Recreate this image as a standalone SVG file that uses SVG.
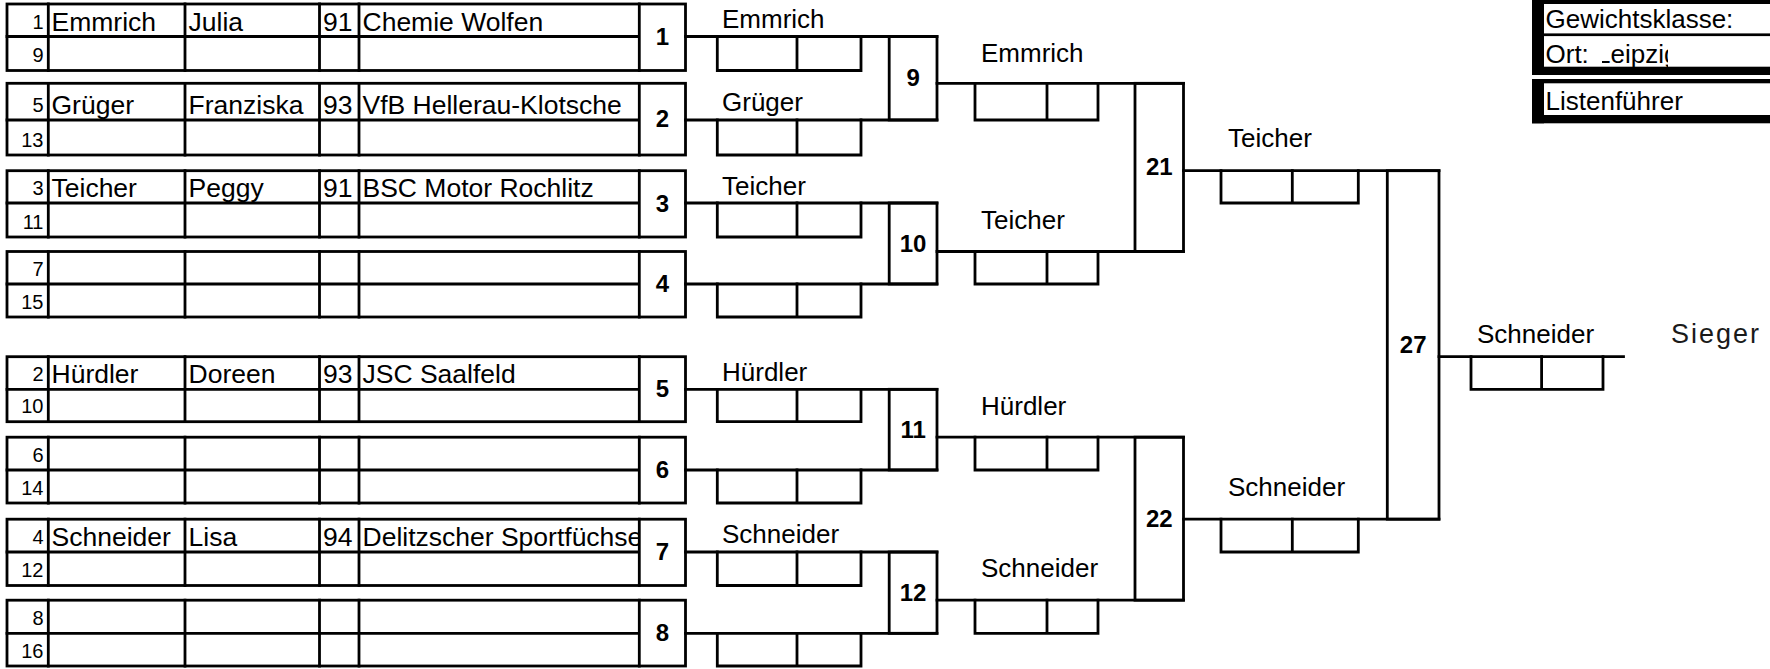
<svg xmlns="http://www.w3.org/2000/svg" width="1770" height="669" viewBox="0 0 1770 669">
<style>
.ln{stroke:#000;stroke-width:2.8;fill:none;stroke-linecap:square}
.t{font-family:"Liberation Sans",Arial,sans-serif;font-size:26px;fill:#000}
.c{font-size:26.5px}
.n{font-size:20px;text-anchor:end}
.b{font-weight:bold;font-size:24px;text-anchor:middle}
.s{font-size:27px;letter-spacing:2px;fill:#1a1a1a}
.blk{fill:#000}
</style>
<defs>
<clipPath id="clubClip"><rect x="360" y="519" width="279" height="34"/></clipPath>
<clipPath id="ortClip"><rect x="1540" y="36" width="55" height="31"/><rect x="1602" y="36" width="66" height="31"/></clipPath>
</defs>
<rect width="1770" height="669" fill="#fff"/>

<g id="pair-1">
<rect class="ln" x="7" y="4" width="678.5" height="66.5"/>
<path class="ln" d="M7 36.5H639.3M48.3 4V70.5M185 4V70.5M319.5 4V70.5M359 4V70.5M639.3 4V70.5"/>
<text class="t n" x="43.5" y="28.5">1</text><text class="t n" x="43.5" y="62">9</text>
<text class="t c" x="51.5" y="30.5">Emmrich</text><text class="t c" x="188.5" y="30.5">Julia</text><text class="t c" x="323" y="30.5">91</text><text class="t c" x="362.5" y="30.5">Chemie Wolfen</text>
<text class="t b" x="662.4" y="45.3">1</text>
</g>
<g id="pair-2">
<rect class="ln" x="7" y="83.3" width="678.5" height="71.7"/>
<path class="ln" d="M7 120H639.3M48.3 83.3V155M185 83.3V155M319.5 83.3V155M359 83.3V155M639.3 83.3V155"/>
<text class="t n" x="43.5" y="112">5</text><text class="t n" x="43.5" y="146.5">13</text>
<text class="t c" x="51.5" y="114">Grüger</text><text class="t c" x="188.5" y="114">Franziska</text><text class="t c" x="323" y="114">93</text><text class="t c" x="362.5" y="114">VfB Hellerau-Klotsche</text>
<text class="t b" x="662.4" y="127.2">2</text>
</g>
<g id="pair-3">
<rect class="ln" x="7" y="170.7" width="678.5" height="66.3"/>
<path class="ln" d="M7 203H639.3M48.3 170.7V237M185 170.7V237M319.5 170.7V237M359 170.7V237M639.3 170.7V237"/>
<text class="t n" x="43.5" y="195">3</text><text class="t n" x="43.5" y="228.5">11</text>
<text class="t c" x="51.5" y="197">Teicher</text><text class="t c" x="188.5" y="197">Peggy</text><text class="t c" x="323" y="197">91</text><text class="t c" x="362.5" y="197">BSC Motor Rochlitz</text>
<text class="t b" x="662.4" y="211.9">3</text>
</g>
<g id="pair-4">
<rect class="ln" x="7" y="251.5" width="678.5" height="65.5"/>
<path class="ln" d="M7 284H639.3M48.3 251.5V317M185 251.5V317M319.5 251.5V317M359 251.5V317M639.3 251.5V317"/>
<text class="t n" x="43.5" y="276">7</text><text class="t n" x="43.5" y="308.5">15</text>
<text class="t b" x="662.4" y="292.3">4</text>
</g>
<g id="pair-5">
<rect class="ln" x="7" y="356.7" width="678.5" height="65"/>
<path class="ln" d="M7 389.3H639.3M48.3 356.7V421.7M185 356.7V421.7M319.5 356.7V421.7M359 356.7V421.7M639.3 356.7V421.7"/>
<text class="t n" x="43.5" y="381.3">2</text><text class="t n" x="43.5" y="413.2">10</text>
<text class="t c" x="51.5" y="383.3">Hürdler</text><text class="t c" x="188.5" y="383.3">Doreen</text><text class="t c" x="323" y="383.3">93</text><text class="t c" x="362.5" y="383.3">JSC Saalfeld</text>
<text class="t b" x="662.4" y="397.2">5</text>
</g>
<g id="pair-6">
<rect class="ln" x="7" y="437.2" width="678.5" height="65.8"/>
<path class="ln" d="M7 470H639.3M48.3 437.2V503M185 437.2V503M319.5 437.2V503M359 437.2V503M639.3 437.2V503"/>
<text class="t n" x="43.5" y="462">6</text><text class="t n" x="43.5" y="494.5">14</text>
<text class="t b" x="662.4" y="478.1">6</text>
</g>
<g id="pair-7">
<rect class="ln" x="7" y="519.2" width="678.5" height="66.3"/>
<path class="ln" d="M7 552H639.3M48.3 519.2V585.5M185 519.2V585.5M319.5 519.2V585.5M359 519.2V585.5M639.3 519.2V585.5"/>
<text class="t n" x="43.5" y="544">4</text><text class="t n" x="43.5" y="577">12</text>
<text class="t c" x="51.5" y="546">Schneider</text><text class="t c" x="188.5" y="546">Lisa</text><text class="t c" x="323" y="546">94</text><text class="t c" x="362.5" y="546" clip-path="url(#clubClip)">Delitzscher Sportfüchse</text>
<text class="t b" x="662.4" y="560.4">7</text>
</g>
<g id="pair-8">
<rect class="ln" x="7" y="600.2" width="678.5" height="65.8"/>
<path class="ln" d="M7 633.3H639.3M48.3 600.2V666M185 600.2V666M319.5 600.2V666M359 600.2V666M639.3 600.2V666"/>
<text class="t n" x="43.5" y="625.3">8</text><text class="t n" x="43.5" y="657.5">16</text>
<text class="t b" x="662.4" y="641.1">8</text>
</g>

<g id="connectors">
<path class="ln" d="M685.5 36.5H937M685.5 120H937M685.5 203H937M685.5 284H937M685.5 389.3H937M685.5 470H937M685.5 552H937M685.5 633.3H937"/>
<path class="ln" d="M937 83.3H1183.5M937 251.5H1183.5M937 437.2H1183.5M937 600.2H1183.5"/>
<path class="ln" d="M1183.5 170.7H1439M1183.5 519.2H1439"/>
<path class="ln" d="M1439 356.7H1623.5"/>
</g>

<g id="score-r1">
<path class="ln" d="M717.3 36.5V70.5H861V36.5M797 36.5V70.5"/>
<path class="ln" d="M717.3 120V155H861V120M797 120V155"/>
<path class="ln" d="M717.3 203V237H861V203M797 203V237"/>
<path class="ln" d="M717.3 284V317H861V284M797 284V317"/>
<path class="ln" d="M717.3 389.3V421.7H861V389.3M797 389.3V421.7"/>
<path class="ln" d="M717.3 470V503H861V470M797 470V503"/>
<path class="ln" d="M717.3 552V585.5H861V552M797 552V585.5"/>
<path class="ln" d="M717.3 633.3V666H861V633.3M797 633.3V666"/>
<text class="t" x="722" y="27.5">Emmrich</text>
<text class="t" x="722" y="110.5">Grüger</text>
<text class="t" x="722" y="194.5">Teicher</text>
<text class="t" x="722" y="381">Hürdler</text>
<text class="t" x="722" y="543">Schneider</text>
</g>

<g id="match-9"><rect class="ln" x="889.2" y="36.5" width="47.8" height="83.5"/><text class="t b" x="913.1" y="86.3">9</text></g>
<g id="match-10"><rect class="ln" x="889.2" y="203" width="47.8" height="81"/><text class="t b" x="913.1" y="251.5">10</text></g>
<g id="match-11"><rect class="ln" x="889.2" y="389.3" width="47.8" height="80.7"/><text class="t b" x="913.1" y="437.7">11</text></g>
<g id="match-12"><rect class="ln" x="889.2" y="552" width="47.8" height="81.3"/><text class="t b" x="913.1" y="600.7">12</text></g>

<g id="score-r2">
<path class="ln" d="M975 83.3V120H1098V83.3M1047 83.3V120"/>
<path class="ln" d="M975 251.5V284H1098V251.5M1047 251.5V284"/>
<path class="ln" d="M975 437.2V470H1098V437.2M1047 437.2V470"/>
<path class="ln" d="M975 600.2V633.3H1098V600.2M1047 600.2V633.3"/>
<text class="t" x="981" y="62">Emmrich</text>
<text class="t" x="981" y="228.5">Teicher</text>
<text class="t" x="981" y="415">Hürdler</text>
<text class="t" x="981" y="577">Schneider</text>
</g>

<g id="match-21"><rect class="ln" x="1135" y="83.3" width="48.5" height="168.2"/><text class="t b" x="1159.3" y="175.4">21</text></g>
<g id="match-22"><rect class="ln" x="1135" y="437.2" width="48.5" height="163"/><text class="t b" x="1159.3" y="526.7">22</text></g>

<g id="score-r3">
<path class="ln" d="M1221 170.7V203H1358.3V170.7M1292.3 170.7V203"/>
<path class="ln" d="M1221 519.2V552H1358.3V519.2M1292.3 519.2V552"/>
<text class="t" x="1228" y="146.7">Teicher</text>
<text class="t" x="1228" y="496">Schneider</text>
</g>

<g id="match-27"><rect class="ln" x="1387.3" y="170.7" width="51.7" height="348.5"/><text class="t b" x="1413.2" y="353">27</text></g>

<g id="final">
<path class="ln" d="M1471 356.7V389.3H1603V356.7M1541.6 356.7V389.3"/>
<text class="t" x="1477" y="343">Schneider</text>
<text class="t s" x="1671" y="343">Sieger</text>
</g>

<g id="info">
<rect class="blk" x="1532" y="0" width="12" height="75"/>
<rect class="blk" x="1532" y="0" width="238" height="4"/>
<rect class="blk" x="1544" y="33.4" width="226" height="2.7"/>
<rect class="blk" x="1532" y="66.7" width="238" height="8.3"/>
<rect class="blk" x="1532" y="79" width="238" height="4.3"/>
<rect class="blk" x="1532" y="79" width="12" height="44.3"/>
<rect class="blk" x="1532" y="115" width="238" height="8.3"/>
<text class="t" x="1545.5" y="28.3">Gewichtsklasse:</text>
<text class="t" x="1545.5" y="63.3" clip-path="url(#ortClip)">Ort: Leipzig</text>
<text class="t" x="1545.5" y="110">Listenführer</text>
</g>
</svg>
